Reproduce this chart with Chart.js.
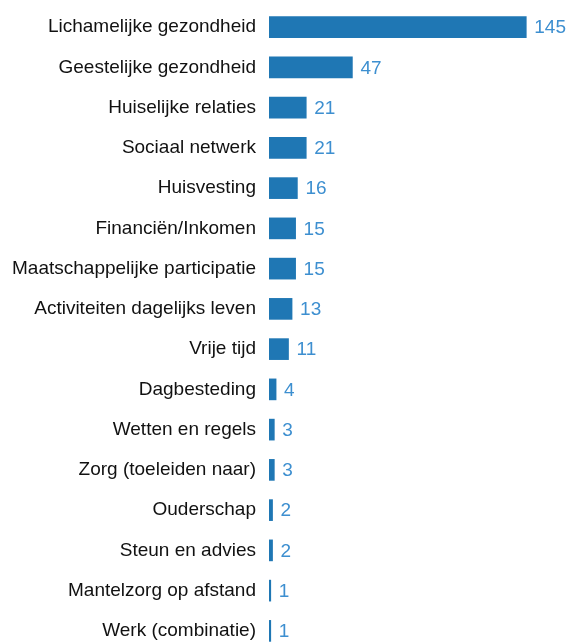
<!DOCTYPE html>
<html>
<head>
<meta charset="utf-8">
<script src="https://cdn.jsdelivr.net/npm/chart.js@4"></script>
<style>
  html, body { margin: 0; padding: 0; background: #fff; overflow: hidden; }
  #chart { display: block; }
</style>
</head>
<body>
<canvas id="chart" width="570" height="660"></canvas>
<script>
// categories (top to bottom) and counts
const categories = [
  "Lichamelijke gezondheid",
  "Geestelijke gezondheid",
  "Huiselijke relaties",
  "Sociaal netwerk",
  "Huisvesting",
  "Financiën/Inkomen",
  "Maatschappelijke participatie",
  "Activiteiten dagelijks leven",
  "Vrije tijd",
  "Dagbesteding",
  "Wetten en regels",
  "Zorg (toeleiden naar)",
  "Ouderschap",
  "Steun en advies",
  "Mantelzorg op afstand",
  "Werk (combinatie)"
];
const counts = [145, 47, 21, 21, 16, 15, 15, 13, 11, 4, 3, 3, 2, 2, 1, 1];

const BAR_BLUE = "#1f77b4";
const LABEL_BLUE = "#3d8fd0";
const FONT = "'Liberation Sans', Arial, sans-serif";

// draw the count right after each bar
const valueLabels = {
  id: "valueLabels",
  afterDatasetsDraw(chart) {
    const ctx = chart.ctx;
    const meta = chart.getDatasetMeta(0);
    ctx.save();
    ctx.font = "19px " + FONT;
    ctx.fillStyle = LABEL_BLUE;
    ctx.textBaseline = "middle";
    ctx.textAlign = "left";
    meta.data.forEach((bar, i) => {
      ctx.fillText(String(counts[i]), bar.x + 8, bar.y + 1);
    });
    ctx.restore();
  }
};

new Chart(document.getElementById("chart").getContext("2d"), {
  type: "bar",
  data: {
    labels: categories,
    datasets: [{
      data: counts,
      backgroundColor: BAR_BLUE,
      borderWidth: 0,
      barThickness: 21
    }]
  },
  options: {
    indexAxis: "y",
    responsive: false,
    animation: false,
    layout: { padding: { top: 7, bottom: 9, right: 10 } },
    plugins: {
      legend: { display: false },
      tooltip: { enabled: false }
    },
    scales: {
      x: {
        display: false,
        min: 0,
        max: 164
      },
      y: {
        afterFit: (scale) => {
          scale.width = 269;
          scale.paddingTop = 0;
          scale.paddingBottom = 0;
        },
        border: { display: false },
        grid: { display: false, drawTicks: false },
        ticks: {
          padding: 13,
          color: "#111",
          font: { size: 19, family: FONT }
        }
      }
    }
  },
  plugins: [valueLabels]
});
</script>
</body>
</html>
